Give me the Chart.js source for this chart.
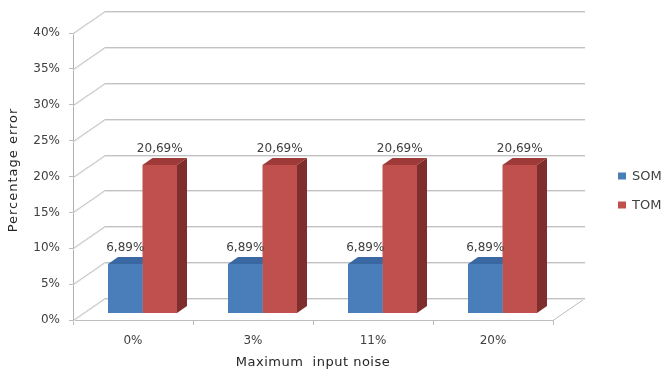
<!DOCTYPE html>
<html>
<head>
<meta charset="utf-8">
<script src="https://cdn.jsdelivr.net/npm/chart.js@4"></script>
<style>
  html, body { margin: 0; padding: 0; background: #ffffff; }
  #wrap { width: 666px; height: 376px; }
</style>
</head>
<body>
<div id="wrap"><canvas id="c" width="666" height="376"></canvas></div>
<script>
// Error rates per noise level
const categories = ['0%', '3%', '11%', '20%'];
const seriesNames = ['SOM', 'TOM'];
const somValues = [6.89, 6.89, 6.89, 6.89];
const tomValues = [20.69, 20.69, 20.69, 20.69];
const yTicks = [0, 5, 10, 15, 20, 25, 30, 35, 40];

// 3D look: depth of the walls, bar plane offset and bar depth (pixels)
const WALL_DX = 32, WALL_DY = -22;
const BAR_DX = 9.5, BAR_DY = -6.5;
const DEPTH_DX = 10, DEPTH_DY = -7;

const palette = {
  SOM: { front: '#4a7ebb', top: '#3a68a3', side: '#2f5486' },
  TOM: { front: '#c0504d', top: '#9e3b38', side: '#7e2e2c' }
};

const FONT = "'DejaVu Sans', sans-serif";
const TEXT = '#404040';

function fmt(v) {
  return v.toFixed(2).replace('.', ',') + '%';
}

const threeD = {
  id: 'threeD',
  beforeDatasetsDraw(chart) {
    const ctx = chart.ctx;
    const area = chart.chartArea;
    const ys = chart.scales.y;

    // floor edge on the right
    ctx.save();
    const y0 = ys.getPixelForValue(0);
    ctx.strokeStyle = '#bdbdbd';
    ctx.lineWidth = 1;
    ctx.beginPath();
    ctx.moveTo(area.right, y0 + 0.5);
    ctx.lineTo(area.right + WALL_DX, y0 + WALL_DY + 0.5);
    ctx.stroke();

    // back wall gridlines and side wall diagonals
    yTicks.forEach(v => {
      const y = Math.round(ys.getPixelForValue(v)) + 0.5;
      [['#e6e6e6', 1], ['#c2c2c2', 0]].forEach(([col, off]) => {
        ctx.strokeStyle = col;
        ctx.beginPath();
        ctx.moveTo(area.left, y + off);
        ctx.lineTo(area.left + WALL_DX, y + WALL_DY + off);
        ctx.lineTo(area.right + WALL_DX, y + WALL_DY + off);
        ctx.stroke();
      });
    });

    // tops and sides of bars (fronts are drawn by the library)
    for (let i = 0; i < categories.length; i++) {
      chart.data.datasets.forEach((ds, di) => {
        const el = chart.getDatasetMeta(di).data[i];
        const p = el.getProps(['x', 'y', 'base', 'width'], true);
        const x0 = p.x - p.width / 2 + BAR_DX;
        const x1 = p.x + p.width / 2 + BAR_DX;
        const yt = p.y + BAR_DY;
        const yb = p.base + BAR_DY;
        const col = palette[ds.label];
        // top face
        ctx.fillStyle = col.top;
        ctx.beginPath();
        ctx.moveTo(x0, yt);
        ctx.lineTo(x1, yt);
        ctx.lineTo(x1 + DEPTH_DX, yt + DEPTH_DY);
        ctx.lineTo(x0 + DEPTH_DX, yt + DEPTH_DY);
        ctx.closePath();
        ctx.fill();
        // right side face
        ctx.fillStyle = col.side;
        ctx.beginPath();
        ctx.moveTo(x1, yt);
        ctx.lineTo(x1 + DEPTH_DX, yt + DEPTH_DY);
        ctx.lineTo(x1 + DEPTH_DX, yb + DEPTH_DY);
        ctx.lineTo(x1, yb);
        ctx.closePath();
        ctx.fill();
      });
    }
    ctx.restore();

    // shift the bar fronts into the bar plane
    ctx.save();
    ctx.translate(BAR_DX, BAR_DY);
  },
  afterDatasetsDraw(chart) {
    const ctx = chart.ctx;
    ctx.restore();

    // value labels
    ctx.save();
    ctx.font = '12px ' + FONT;
    ctx.fillStyle = TEXT;
    ctx.textAlign = 'center';
    ctx.textBaseline = 'middle';
    chart.data.datasets.forEach((ds, di) => {
      chart.getDatasetMeta(di).data.forEach((el, i) => {
        const p = el.getProps(['x', 'y'], true);
        ctx.fillText(fmt(ds.data[i]), p.x + BAR_DX, p.y + BAR_DY - 16);
      });
    });
    ctx.restore();
  },
  afterDraw(chart) {
    const ctx = chart.ctx;
    const area = chart.chartArea;
    ctx.save();
    // axis titles
    ctx.fillStyle = '#262626';
    ctx.font = '13px ' + FONT;
    ctx.textAlign = 'center';
    ctx.textBaseline = 'middle';
    ctx.letterSpacing = '0.5px';
    ctx.fillText('Maximum  input noise', (area.left + area.right) / 2, 363);
    ctx.save();
    ctx.letterSpacing = '1px';
    ctx.translate(14, 170);
    ctx.rotate(-Math.PI / 2);
    ctx.fillText('Percentage error', 0, 0);
    ctx.restore();

    // legend
    ctx.letterSpacing = '0px';
    ctx.textAlign = 'left';
    const legendY = [176, 205];
    seriesNames.forEach((name, k) => {
      ctx.fillStyle = palette[name].front;
      ctx.fillRect(618, legendY[k] - 3.5, 8, 7);
      ctx.fillStyle = TEXT;
      ctx.fillText(name, 632, legendY[k] + 0.5);
    });
    ctx.restore();
  }
};

Chart.defaults.font.family = FONT;
Chart.defaults.color = TEXT;

new Chart(document.getElementById('c'), {
  type: 'bar',
  data: {
    labels: categories,
    datasets: [
      { label: seriesNames[0], data: somValues, backgroundColor: palette.SOM.front, borderWidth: 0 },
      { label: seriesNames[1], data: tomValues, backgroundColor: palette.TOM.front, borderWidth: 0 }
    ]
  },
  options: {
    responsive: false,
    devicePixelRatio: 1,
    animation: false,
    events: [],
    layout: { padding: { left: 0, top: 33, right: 113, bottom: 0 } },
    datasets: { bar: { categoryPercentage: 0.575, barPercentage: 1 } },
    plugins: { legend: { display: false }, tooltip: { enabled: false } },
    scales: {
      x: {
        grid: { drawOnChartArea: false, drawTicks: true, tickLength: 5, color: '#bdbdbd' },
        border: { display: true, color: '#bdbdbd' },
        ticks: { font: { size: 12 }, color: TEXT, padding: 9 },
        afterFit(s) { s.height = 56; }
      },
      y: {
        min: 0,
        max: 40,
        afterBuildTicks(s) { s.ticks = yTicks.map(v => ({ value: v })); },
        grid: { drawOnChartArea: false, drawTicks: true, tickLength: 4, color: '#bdbdbd' },
        border: { display: true, color: '#b0b0b0' },
        ticks: { font: { size: 12 }, color: TEXT, padding: 9, callback: v => v + '%' },
        afterFit(s) { s.width = 73; }
      }
    }
  },
  plugins: [threeD]
});
</script>
</body>
</html>
